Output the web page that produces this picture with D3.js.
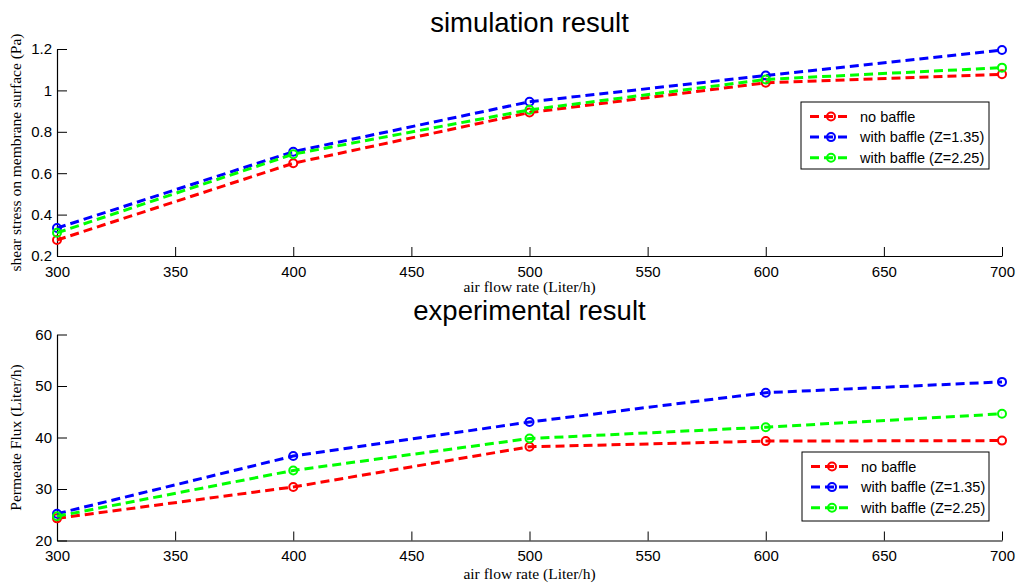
<!DOCTYPE html>
<html>
<head>
<meta charset="utf-8">
<script src="https://cdn.jsdelivr.net/npm/d3@7"></script>
<style>
  html, body { margin: 0; padding: 0; background: #fff; }
  svg { display: block; }
</style>
</head>
<body>
<svg id="chart" width="1017" height="586"></svg>
<script>
// Air flow rates (x values) and axis ticks
const airFlow = [300, 400, 500, 600, 700];
const xTicks = [300, 350, 400, 450, 500, 550, 600, 650, 700];

// Simulated shear stress on membrane surface (Pa)
const simNoBaffle   = [0.277, 0.648, 0.893, 1.037, 1.078];
const simBaffle135  = [0.335, 0.704, 0.945, 1.072, 1.195];
const simBaffle225  = [0.312, 0.692, 0.906, 1.053, 1.110];
const simYTicks = [0.2, 0.4, 0.6, 0.8, 1, 1.2];
const simYTickLabels = ["0.2", "0.4", "0.6", "0.8", "1", "1.2"];

// Measured permeate flux (Liter/h)
const expNoBaffle   = [24.3, 30.4, 38.2, 39.3, 39.4];
const expBaffle135  = [25.2, 36.4, 43.0, 48.7, 50.8];
const expBaffle225  = [24.7, 33.6, 39.8, 42.0, 44.6];
const expYTicks = [20, 30, 40, 50, 60];

const seriesNames = ["no baffle", "with baffle (Z=1.35)", "with baffle (Z=2.25)"];
const seriesColors = ["#ff0000", "#0000ff", "#00ff00"];

const svg = d3.select("#chart");
const sans = "'Liberation Sans', Arial, sans-serif";
const serif = "'Liberation Serif', 'Times New Roman', serif";

function drawPanel(p) {
  const g = svg.append("g");
  const x = d3.scaleLinear().domain([300, 700]).range([p.left, p.right]);
  const y = d3.scaleLinear().domain(p.yDomain).range([p.bottom, p.top]);

  // title
  g.append("text")
    .attr("x", (p.left + p.right) / 2).attr("y", p.titleY)
    .attr("text-anchor", "middle")
    .style("font-family", sans).style("font-size", "27.5px").attr("fill", "#000")
    .text(p.title);

  // x axis (ticks point inward)
  const xAxis = g.append("g").attr("transform", `translate(0,${p.bottom})`)
    .call(d3.axisBottom(x).tickValues(xTicks).tickSize(0).tickPadding(10).tickFormat(d3.format("d")));
  xAxis.select(".domain").attr("stroke", "#000").attr("stroke-width", 1.2);
  xAxis.selectAll(".tick text").style("font-family", sans).style("font-size", "15px").attr("fill", "#000");
  xAxis.selectAll(".tick").append("line").attr("y1", 0).attr("y2", -9).attr("stroke", "#000").attr("stroke-width", 1);

  // y axis (ticks point inward)
  const yAxis = g.append("g").attr("transform", `translate(${p.left},0)`)
    .call(d3.axisLeft(y).tickValues(p.yTicks).tickSize(0).tickPadding(5)
      .tickFormat((d, i) => p.yTickLabels ? p.yTickLabels[i] : d3.format("d")(d)));
  yAxis.select(".domain").attr("stroke", "#000").attr("stroke-width", 1.2);
  yAxis.selectAll(".tick text").style("font-family", sans).style("font-size", "15px").attr("fill", "#000");
  yAxis.selectAll(".tick").append("line").attr("x1", 0).attr("x2", 10).attr("stroke", "#000").attr("stroke-width", 1);

  // axis labels
  g.append("text")
    .attr("x", (p.left + p.right) / 2).attr("y", p.xLabelY)
    .attr("text-anchor", "middle")
    .style("font-family", serif).style("font-size", "15.5px").attr("fill", "#000")
    .text("air flow rate (Liter/h)");
  g.append("text")
    .attr("transform", `translate(${p.yLabelX},${(p.top + p.bottom) / 2}) rotate(-90)`)
    .attr("text-anchor", "middle")
    .style("font-family", serif).style("font-size", "15.5px").attr("fill", "#000")
    .text(p.yLabel);

  // series
  const line = d3.line().x((d, i) => x(airFlow[i])).y(d => y(d));
  p.series.forEach((vals, k) => {
    g.append("path").datum(vals)
      .attr("d", line).attr("fill", "none")
      .attr("stroke", seriesColors[k]).attr("stroke-width", 3)
      .attr("stroke-dasharray", "9,5");
    g.selectAll(null).data(vals).enter().append("circle")
      .attr("cx", (d, i) => x(airFlow[i])).attr("cy", d => y(d)).attr("r", 4)
      .attr("fill", "none").attr("stroke", seriesColors[k]).attr("stroke-width", 2);
  });

  // legend
  const lg = g.append("g");
  lg.append("rect")
    .attr("x", p.legend.x).attr("y", p.legend.y)
    .attr("width", p.legend.w).attr("height", p.legend.h)
    .attr("fill", "#fff").attr("stroke", "#000").attr("stroke-width", 1);
  seriesNames.forEach((name, k) => {
    const ry = p.legend.y + 14.5 + k * 20.6;
    const x0 = p.legend.x + 9, x1 = p.legend.x + 51;
    lg.append("line").attr("x1", x0).attr("x2", x1).attr("y1", ry).attr("y2", ry)
      .attr("stroke", seriesColors[k]).attr("stroke-width", 3).attr("stroke-dasharray", "9,5");
    lg.append("circle").attr("cx", (x0 + x1) / 2).attr("cy", ry).attr("r", 4)
      .attr("fill", "none").attr("stroke", seriesColors[k]).attr("stroke-width", 2);
    lg.append("text").attr("x", p.legend.x + 59).attr("y", ry + 5)
      .style("font-family", sans).style("font-size", "14.5px").attr("fill", "#000")
      .text(name);
  });
}

drawPanel({
  title: "simulation result", titleY: 32,
  left: 57, right: 1002, top: 49, bottom: 256,
  yDomain: [0.2, 1.2], yTicks: simYTicks, yTickLabels: simYTickLabels,
  xLabelY: 292, yLabelX: 21,
  yLabel: "shear stress on membrane surface (Pa)",
  series: [simNoBaffle, simBaffle135, simBaffle225],
  legend: { x: 801, y: 102, w: 188, h: 67 }
});

drawPanel({
  title: "experimental result", titleY: 320,
  left: 57, right: 1002, top: 334.5, bottom: 540.5,
  yDomain: [20, 60], yTicks: expYTicks, yTickLabels: null,
  xLabelY: 579, yLabelX: 21,
  yLabel: "Permeate Flux (Liter/h)",
  series: [expNoBaffle, expBaffle135, expBaffle225],
  legend: { x: 802, y: 452, w: 187, h: 69 }
});
</script>
</body>
</html>
